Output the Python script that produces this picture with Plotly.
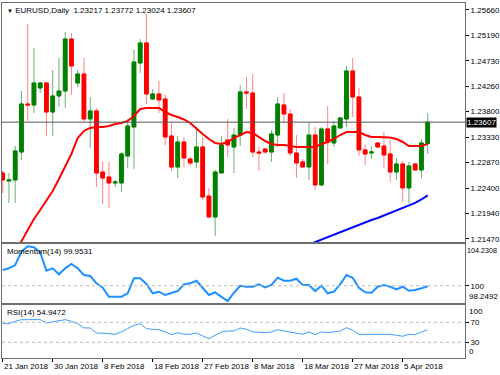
import pandas as pd
import plotly.graph_objects as go
from plotly.subplots import make_subplots

# ---- data ----
dates = [d.strftime('%Y-%m-%d') for d in pd.date_range('2018-01-21', '2018-04-10') if d.weekday() != 5]

open_ = [1.22677,1.22530,1.22549,1.23061,1.23940,1.23922,1.24233,1.24324,1.23793,1.24086,
         1.24178,1.25129,1.24324,1.24489,1.23666,1.23812,1.22695,1.22604,1.22494,1.22494,
         1.22988,1.23519,1.24690,1.25056,1.24031,1.24123,1.24031,1.23354,1.22787,1.23244,
         1.22933,1.22879,1.23153,1.22255,1.21872,1.22677,1.23281,1.23153,1.23372,1.24160,
         1.24141,1.23061,1.23116,1.23061,1.23372,1.23922,1.23757,1.23043,1.22879,1.22787,
         1.23372,1.22458,1.23482,1.23226,1.23501,1.23666,1.24544,1.24068,1.23098,1.23043,
         1.23226,1.23171,1.23025,1.22695,1.22842,1.22403,1.22842,1.22732,1.23217]
high = [1.22714,1.22677,1.23171,1.24178,1.25404,1.24965,1.24342,1.24342,1.24562,1.24782,
        1.25257,1.25239,1.24562,1.24782,1.24068,1.23867,1.22879,1.22879,1.22549,1.23061,
        1.23666,1.24928,1.25129,1.25587,1.24214,1.24361,1.24105,1.23592,1.23354,1.23336,
        1.22970,1.23519,1.23336,1.22403,1.22732,1.23354,1.23666,1.23501,1.24288,1.24434,
        1.24489,1.23153,1.23135,1.23464,1.24068,1.24141,1.23848,1.23372,1.22933,1.23592,
        1.23519,1.23519,1.23903,1.23629,1.23702,1.24635,1.24782,1.24233,1.23190,1.23171,
        1.23244,1.23427,1.23281,1.22952,1.22897,1.22879,1.22842,1.23299,1.23772]
low = [1.22311,1.22128,1.22128,1.22915,1.23629,1.23775,1.24141,1.23354,1.23354,1.23885,
       1.23867,1.24105,1.24251,1.23611,1.23135,1.22421,1.22111,1.22037,1.22421,1.22330,
       1.22769,1.22750,1.24507,1.23940,1.24013,1.23775,1.23190,1.22714,1.22585,1.22787,
       1.22805,1.22769,1.22183,1.21854,1.21525,1.22677,1.22970,1.22677,1.23171,1.23848,
       1.22970,1.22714,1.23025,1.22879,1.23153,1.23592,1.22988,1.22585,1.22787,1.22549,
       1.22366,1.22439,1.22842,1.23153,1.23482,1.23519,1.23702,1.22988,1.22824,1.22933,
       1.23135,1.22769,1.22512,1.22549,1.22146,1.22128,1.22714,1.22585,1.23024]
close = [1.22549,1.22549,1.23080,1.23940,1.23922,1.24324,1.24324,1.23793,1.24086,1.24178,
         1.25129,1.24635,1.24489,1.23666,1.23812,1.22677,1.22585,1.22494,1.22512,1.23025,
         1.23537,1.24708,1.25056,1.24123,1.24123,1.24013,1.23336,1.22787,1.23244,1.22952,
         1.22860,1.23153,1.22237,1.21872,1.22695,1.23190,1.23190,1.23372,1.24160,1.24141,
         1.23061,1.23043,1.23061,1.23391,1.23940,1.23757,1.23043,1.22860,1.22787,1.23372,
         1.22458,1.23482,1.23244,1.23537,1.23684,1.24544,1.24068,1.23098,1.23025,1.23061,
         1.23153,1.23007,1.22695,1.22842,1.22403,1.22805,1.22732,1.23226,1.23607]

ma_red = [1.20811,1.21012,1.21231,1.21433,1.21634,1.21835,1.22000,1.22165,1.22348,1.22567,
          1.22805,1.23025,1.23317,1.23446,1.23501,1.23519,1.23519,1.23537,1.23574,1.23592,
          1.23629,1.23720,1.23848,1.23867,1.23867,1.23867,1.23793,1.23739,1.23702,1.23656,
          1.23592,1.23482,1.23391,1.23299,1.23226,1.23208,1.23244,1.23317,1.23372,1.23427,
          1.23409,1.23336,1.23262,1.23208,1.23190,1.23190,1.23171,1.23153,1.23153,1.23153,
          1.23153,1.23208,1.23244,1.23299,1.23372,1.23427,1.23427,1.23427,1.23372,1.23336,
          1.23336,1.23336,1.23327,1.23299,1.23244,1.23171,1.23171,1.23171,1.23208]
ma_blue = [None] * 48 + [1.21323,1.21369,1.21415,1.21460,1.21506,1.21552,1.21597,1.21643,1.21689,1.21734,
                         1.21780,1.21817,1.21854,1.21899,1.21945,1.21991,1.22027,1.22073,1.22128,1.22192,1.22266]

momentum = [101.594,101.766,102.101,103.450,104.000,103.900,103.389,101.523,101.766,101.158,
            101.766,102.202,101.766,101.087,100.985,100.245,99.799,98.886,98.886,98.886,
            99.231,100.752,100.752,100.174,99.231,99.393,99.058,99.231,99.464,100.144,
            100.245,100.509,99.738,99.058,99.332,98.886,98.450,99.292,100.002,99.900,
            99.900,100.144,99.840,100.073,100.813,100.509,100.509,100.712,100.073,100.073,
            99.464,100.002,99.231,99.393,100.144,101.087,100.813,99.799,99.332,99.292,
            99.900,100.073,99.900,99.637,99.900,99.495,99.566,99.738,99.9531]
rsi = [67.3,67.3,72.0,75.3,75.3,76.0,75.3,68.7,70.7,72.0,
       75.3,72.0,67.3,58.7,58.7,48.7,48.7,47.3,46.0,50.7,
       57.3,64.0,67.3,57.3,56.0,55.3,50.7,45.3,49.3,46.0,
       46.0,48.7,42.7,37.3,44.0,50.7,52.7,52.7,58.7,56.0,
       50.7,49.3,49.3,50.7,55.3,52.7,50.7,47.3,46.0,50.7,
       45.3,50.7,49.3,50.7,52.7,59.3,54.0,46.0,46.0,46.0,
       47.3,47.3,46.0,44.0,42.0,46.0,45.3,50.7,54.9472]

price_ticks = [1.25660, 1.25190, 1.24730, 1.24260, 1.23800, 1.23330, 1.22870, 1.22400, 1.21940, 1.21470]
date_label_idx = [0, 8, 16, 24, 32, 40, 48, 56, 64]
date_labels = ["21 Jan 2018", "30 Jan 2018", "8 Feb 2018", "18 Feb 2018", "27 Feb 2018",
               "8 Mar 2018", "18 Mar 2018", "27 Mar 2018", "5 Apr 2018"]
last_price = 1.23607
title_text = "EURUSD,Daily  1.23217 1.23772 1.23024 1.23607"
mom_label = "Momentum(14) 99.9531"
rsi_label = "RSI(14) 54.9472"
mom_min, mom_max = 98.2492, 104.2308

# ---- figure ----
FONT = "Liberation Sans, Arial, sans-serif"
FRAME = "#6e6e6e"
fig = make_subplots(rows=3, cols=1, shared_xaxes=True, vertical_spacing=0.0)

body_hi = [max(o, c) for o, c in zip(open_, close)]
body_lo = [min(o, c) for o, c in zip(open_, close)]

# wicks (lighter)
fig.add_trace(go.Candlestick(
    x=dates, open=open_, high=high, low=low, close=close,
    increasing=dict(line=dict(color="rgba(60,150,60,0.75)", width=1), fillcolor="rgba(60,150,60,0.75)"),
    decreasing=dict(line=dict(color="rgba(255,90,90,0.75)", width=1), fillcolor="rgba(255,90,90,0.75)"),
    hoverinfo="skip", showlegend=False), row=1, col=1)
# bodies
fig.add_trace(go.Candlestick(
    x=dates, open=open_, high=body_hi, low=body_lo, close=close,
    increasing=dict(line=dict(color="#008000", width=1), fillcolor="#008000"),
    decreasing=dict(line=dict(color="#ff0000", width=1), fillcolor="#ff0000"),
    hoverinfo="skip", showlegend=False), row=1, col=1)

fig.add_trace(go.Scatter(x=dates, y=ma_red, mode="lines", line=dict(color="#ff0000", width=2),
                         hoverinfo="skip", showlegend=False), row=1, col=1)
fig.add_trace(go.Scatter(x=dates, y=ma_blue, mode="lines", line=dict(color="#0000ff", width=2),
                         hoverinfo="skip", showlegend=False), row=1, col=1)

fig.add_trace(go.Scatter(x=dates, y=momentum, mode="lines", line=dict(color="#1e90ff", width=2),
                         hoverinfo="skip", showlegend=False), row=2, col=1)
fig.add_trace(go.Scatter(x=dates, y=rsi, mode="lines", line=dict(color="#3d9cff", width=1),
                         hoverinfo="skip", showlegend=False), row=3, col=1)

xr = [-0.11, 73.97]
common_x = dict(type="category", range=xr, showgrid=False, zeroline=False, showline=True,
                mirror=True, linecolor=FRAME, linewidth=1, rangeslider=dict(visible=False),
                automargin=False, fixedrange=True)
fig.update_xaxes(**common_x)
fig.update_xaxes(showticklabels=False, ticks="", row=1, col=1)
fig.update_xaxes(showticklabels=False, ticks="", row=2, col=1)
fig.update_xaxes(ticks="outside", ticklen=3, tickcolor="#000",
                 tickvals=[dates[i] for i in date_label_idx],
                 ticktext=[""] * len(date_label_idx), row=3, col=1)

common_y = dict(side="right", showgrid=False, zeroline=False, showline=True, mirror=True,
                linecolor=FRAME, linewidth=1, ticks="outside", ticklen=3, tickcolor="#000",
                tickfont=dict(size=8, color="#000", family=FONT), automargin=False, fixedrange=True)
fig.update_yaxes(**common_y)
fig.update_yaxes(range=[1.21414, 1.25788], tickvals=price_ticks,
                 ticktext=[f"{v:.5f}" for v in price_ticks], domain=[0.3268, 1.0], row=1, col=1)
fig.update_yaxes(range=[mom_min, mom_max], tickvals=[100], ticktext=["100"],
                 domain=[0.1549, 0.3211], row=2, col=1)
fig.update_yaxes(range=[-1.4, 104.6], tickvals=[70, 30], ticktext=["70", "30"],
                 domain=[0.0, 0.1493], row=3, col=1)

shapes = [
    dict(type="line", xref="paper", x0=0, x1=1, yref="y", y0=last_price, y1=last_price,
         line=dict(color="#555555", width=1)),
    dict(type="line", xref="paper", x0=0, x1=1, yref="y2", y0=100, y1=100,
         line=dict(color="#b8b8b8", width=1, dash="dot")),
    dict(type="line", xref="paper", x0=0, x1=1, yref="y3", y0=70, y1=70,
         line=dict(color="#b8b8b8", width=1, dash="dot")),
    dict(type="line", xref="paper", x0=0, x1=1, yref="y3", y0=30, y1=30,
         line=dict(color="#b8b8b8", width=1, dash="dot")),
]

f8 = dict(size=8, color="#000", family=FONT)
f7 = dict(size=7.2, color="#000", family=FONT)
annotations = [
    dict(text="<span style='font-size:6px'>▼</span> " + title_text, xref="paper", x=0, xanchor="left",
         xshift=3, yref="paper", y=1, yanchor="top", yshift=-1, showarrow=False, font=f8),
    dict(text=mom_label, xref="paper", x=0, xanchor="left", xshift=3, yref="y2 domain", y=1,
         yanchor="top", yshift=-1, showarrow=False, font=f8),
    dict(text=rsi_label, xref="paper", x=0, xanchor="left", xshift=3, yref="y3 domain", y=1,
         yanchor="top", yshift=-1, showarrow=False, font=f8),
    dict(text=f"{mom_max:.4f}", xref="paper", x=1, xanchor="left", xshift=0, yref="y2 domain", y=1,
         yanchor="top", yshift=0, showarrow=False, font=f7),
    dict(text=f"{mom_min:.4f}", xref="paper", x=1, xanchor="left", xshift=2, yref="y2 domain", y=0,
         yanchor="bottom", yshift=0, showarrow=False, font=f8),
    dict(text="100", xref="paper", x=1, xanchor="left", xshift=2, yref="y3 domain", y=1,
         yanchor="top", yshift=0, showarrow=False, font=f8),
    dict(text="0", xref="paper", x=1, xanchor="left", xshift=2, yref="y3 domain", y=0,
         yanchor="bottom", yshift=0, showarrow=False, font=f8),
    dict(text=f"{last_price:.5f}", xref="paper", x=1, xanchor="left", xshift=1, yref="y", y=last_price,
         yanchor="middle", showarrow=False, bgcolor="#000", borderpad=0,
         font=dict(size=8, color="#fff", family=FONT)),
]
for i, lab in zip(date_label_idx, date_labels):
    annotations.append(dict(text=lab, xref="x3", x=dates[i], xanchor="left", xshift=-1,
                            yref="paper", y=0, yanchor="top", yshift=-2, showarrow=False, font=f8))

fig.update_layout(
    template="none", width=500, height=375,
    margin=dict(l=2, r=35, t=3, b=17, pad=0),
    paper_bgcolor="#fff", plot_bgcolor="#fff",
    font=dict(family=FONT, size=8, color="#000"),
    showlegend=False, boxgap=0.15,
    shapes=shapes, annotations=annotations,
)
fig.write_html("out.html", config={"displayModeBar": False, "staticPlot": True},
               post_script="document.body.style.margin='0';document.body.style.padding='0';")
